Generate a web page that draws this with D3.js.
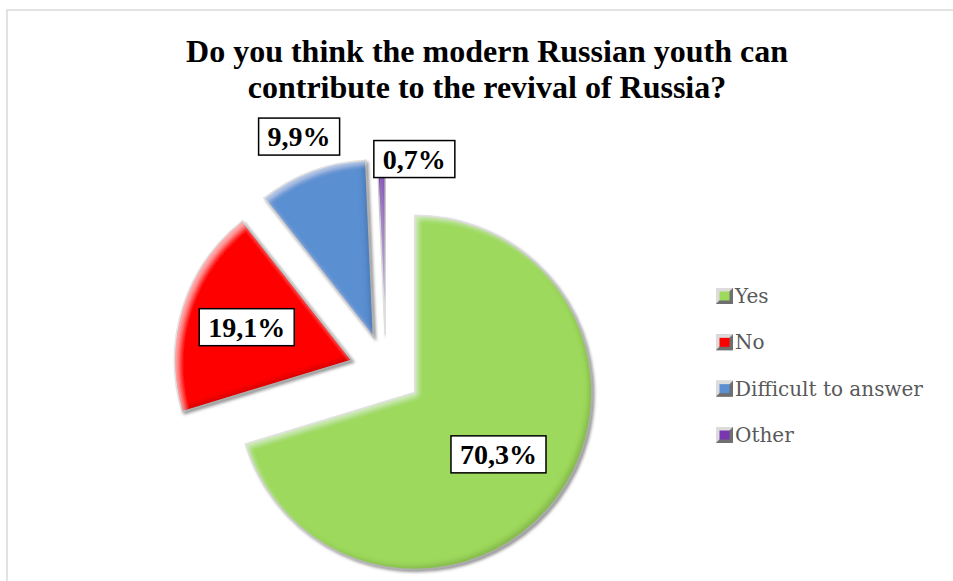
<!DOCTYPE html>
<html>
<head>
<meta charset="utf-8">
<script src="https://cdn.jsdelivr.net/npm/d3@7"></script>
<style>
  body { margin: 0; background: #fff; }
  svg { display: block; }
</style>
</head>
<body>
<div id="chart"></div>
<script>
// data
const categories = ["Yes", "No", "Difficult to answer", "Other"];
const values = [70.3, 19.1, 9.9, 0.7];
const valueLabels = ["70,3%", "19,1%", "9,9%", "0,7%"];
const titleLines = ["Do you think the modern Russian youth can", "contribute to the revival of Russia?"];

const colours = ["#9dd95b", "#ff0000", "#5a8fd2", "#7a35b0"];

const width = 953, height = 581;
const cx = 386, cy = 371;
const radius = 177;
const explode = 36;

const svg = d3.select('#chart').append('svg')
    .attr('width', width)
    .attr('height', height);

/* filters: drop shadow + inner bevel */
const defs = svg.append('defs');
const bevel = defs.append('filter')
    .attr('id', 'bevel')
    .attr('x', '-10%').attr('y', '-10%')
    .attr('width', '120%').attr('height', '120%');
// inverse alpha, blurred
bevel.append('feComponentTransfer').attr('in', 'SourceAlpha').attr('result', 'inv')
  .append('feFuncA').attr('type', 'table').attr('tableValues', '1 0');
bevel.append('feGaussianBlur').attr('in', 'inv').attr('stdDeviation', 2.5).attr('result', 'invBlur');
// dark edge bottom-right
bevel.append('feOffset').attr('in', 'invBlur').attr('dx', -4).attr('dy', -4).attr('result', 'offDark');
bevel.append('feFlood').attr('flood-color', '#000').attr('flood-opacity', 0.3).attr('result', 'darkCol');
bevel.append('feComposite').attr('in', 'darkCol').attr('in2', 'offDark').attr('operator', 'in').attr('result', 'dark1');
bevel.append('feComposite').attr('in', 'dark1').attr('in2', 'SourceAlpha').attr('operator', 'in').attr('result', 'dark');
// light edge top-left
bevel.append('feOffset').attr('in', 'invBlur').attr('dx', 4).attr('dy', 4).attr('result', 'offLight');
bevel.append('feFlood').attr('flood-color', '#fff').attr('flood-opacity', 0.45).attr('result', 'lightCol');
bevel.append('feComposite').attr('in', 'lightCol').attr('in2', 'offLight').attr('operator', 'in').attr('result', 'light1');
bevel.append('feComposite').attr('in', 'light1').attr('in2', 'SourceAlpha').attr('operator', 'in').attr('result', 'light');
// outer drop shadow
bevel.append('feGaussianBlur').attr('in', 'SourceAlpha').attr('stdDeviation', 1.5).attr('result', 'sBlur');
bevel.append('feOffset').attr('in', 'sBlur').attr('dx', 2).attr('dy', 2).attr('result', 'sOff');
bevel.append('feFlood').attr('flood-color', '#7f7f7f').attr('flood-opacity', 0.8).attr('result', 'sCol');
bevel.append('feComposite').attr('in', 'sCol').attr('in2', 'sOff').attr('operator', 'in').attr('result', 'shadow');
const merge = bevel.append('feMerge');
merge.append('feMergeNode').attr('in', 'shadow');
merge.append('feMergeNode').attr('in', 'SourceGraphic');
merge.append('feMergeNode').attr('in', 'dark');
merge.append('feMergeNode').attr('in', 'light');

// chart frame
svg.append('rect')
    .attr('x', 7).attr('y', 10)
    .attr('width', width + 20).attr('height', height + 20)
    .attr('fill', 'none')
    .attr('stroke', '#d9d9d9')
    .attr('stroke-width', 1.5);

// title
svg.append('text')
    .attr('x', 487)
    .attr('y', 62)
    .attr('text-anchor', 'middle')
    .style('font-family', '"Liberation Serif", "Times New Roman", serif')
    .style('font-weight', 'bold')
    .style('font-size', '32px')
    .attr('fill', '#000')
  .selectAll('tspan')
  .data(titleLines)
  .join('tspan')
    .attr('x', 487)
    .attr('dy', (d, i) => i === 0 ? 0 : 36)
    .text(d => d);

// pie
const data = categories.map((c, i) => ({ key: c, value: values[i], label: valueLabels[i], colour: colours[i] }));

const pie = d3.pie()
    .sort(null)
    .value(d => d.value)
    .startAngle(0)
    .endAngle(2 * Math.PI);

const arc = d3.arc()
    .innerRadius(0)
    .outerRadius(radius);

const arcs = pie(data);
const mid = d => (d.startAngle + d.endAngle) / 2;

const chartArea = svg.append('g')
    .attr('transform', `translate(${cx},${cy})`);

chartArea.selectAll('.slice')
    .data(arcs)
    .join('path')
    .attr('class', 'slice')
    .attr('transform', d => {
      const [x, y] = d3.pointRadial(mid(d), explode);
      return `translate(${x},${y})`;
    })
    .attr('d', arc)
    .attr('fill', d => d.data.colour)
    .attr('stroke', '#c9c9c9')
    .attr('stroke-width', 1.5)
    .attr('stroke-linejoin', 'miter')
    .attr('filter', 'url(#bevel)');

// data label placement (radius from centre, extra x shift)
const labelPlace = [
  { r: 140, dx: 0 },
  { r: 146, dx: 0 },
  { r: 250, dx: 0 },
  { r: 212, dx: 33 },
];

const labels = chartArea.selectAll('.value-label')
    .data(arcs)
    .join('g')
    .attr('class', 'value-label')
    .attr('transform', (d, i) => {
      const [x, y] = d3.pointRadial(mid(d), labelPlace[i].r);
      return `translate(${x + labelPlace[i].dx},${y})`;
    });

labels.append('text')
    .attr('text-anchor', 'middle')
    .attr('dy', '0.35em')
    .style('font-family', '"Liberation Serif", "Times New Roman", serif')
    .style('font-weight', 'bold')
    .style('font-size', '28px')
    .attr('fill', '#000')
    .text(d => d.data.label);

labels.each(function() {
  const g = d3.select(this);
  const bb = g.select('text').node().getBBox();
  g.insert('rect', 'text')
      .attr('x', bb.x - 9)
      .attr('y', -18.5)
      .attr('width', bb.width + 18)
      .attr('height', 37)
      .attr('fill', '#fff')
      .attr('stroke', '#000')
      .attr('stroke-width', 1.5);
});

// legend
const legendY = d3.scalePoint()
    .domain(categories)
    .range([296, 435]);

const legend = svg.append('g').attr('class', 'legend');
const items = legend.selectAll('.legend-item')
    .data(data)
    .join('g')
    .attr('class', 'legend-item')
    .attr('transform', d => `translate(716,${legendY(d.key)})`);

// bevelled marker
items.append('rect')
    .attr('x', 0).attr('y', -8)
    .attr('width', 17).attr('height', 16)
    .attr('fill', '#b0b0b0');
items.append('path')
    .attr('d', 'M0,-8 L17,-8 L13,-4 L4,-4 L4,4 L0,8 Z')
    .attr('fill', '#dcdcdc');
items.append('path')
    .attr('d', 'M17,-8 L17,8 L0,8 L4,4 L13,4 L13,-4 Z')
    .attr('fill', '#6f6f6f');
items.append('rect')
    .attr('x', 3.5).attr('y', -4.5)
    .attr('width', 10).attr('height', 9)
    .attr('fill', d => d.colour);

items.append('text')
    .attr('x', 19)
    .attr('dy', '0.35em')
    .style('font-family', '"DejaVu Serif", serif')
    .style('font-size', '20px')
    .attr('fill', '#595959')
    .text(d => d.key);
</script>
</body>
</html>
